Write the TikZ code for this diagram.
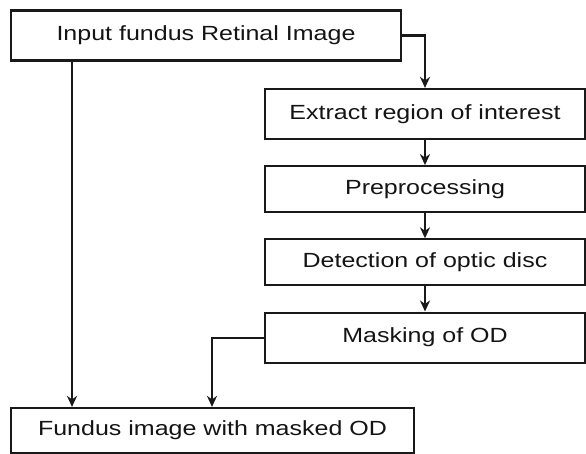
\documentclass[tikz,border=0pt]{standalone}
\usepackage{fontspec}
\setmainfont{Liberation Sans}[FakeStretch=1.22]
\usepackage{tikz}
\usetikzlibrary{arrows.meta, positioning}

\begin{document}
\begin{tikzpicture}[
    x=1pt, y=-1pt,         % pixel-like units, y grows downwards
    node distance=25pt,
    stage/.style={rectangle, draw=black!90, line width=2.2pt, minimum height=50pt,
                  inner sep=0pt, text=black!92, font=\fontsize{20.5}{24}\selectfont},
    arrow/.style={-{Stealth[length=11pt, width=10pt, inset=3.5pt]}, line width=2.2pt, black!90}
]
\useasboundingbox (0,0) rectangle (586,454);

\node[stage, minimum width=390pt] (input) at (206,35.5) {Input fundus Retinal Image};
\node[stage, minimum width=320pt] (roi) at (425,114) {Extract region of interest};
\node[stage, minimum width=320pt, minimum height=46pt, below=of roi] (prep) {Preprocessing};
\node[stage, minimum width=320pt, minimum height=46pt, below=of prep] (detect) {Detection of optic disc};
\node[stage, minimum width=320pt, below=of detect] (mask) {Masking of OD};
\node[stage, minimum width=403pt, minimum height=45pt] (output) at (212.5,430.5) {Fundus image with masked OD};

\draw[arrow] (input.east) -| (roi.north);
\draw[arrow] (roi) -- (prep);
\draw[arrow] (prep) -- (detect);
\draw[arrow] (detect) -- (mask);
\draw[arrow] (input.south -| 72,0) -- (output.north -| 72,0);
\draw[arrow] (mask.west) -| (output.north -| 212,0);

\end{tikzpicture}
\end{document}
